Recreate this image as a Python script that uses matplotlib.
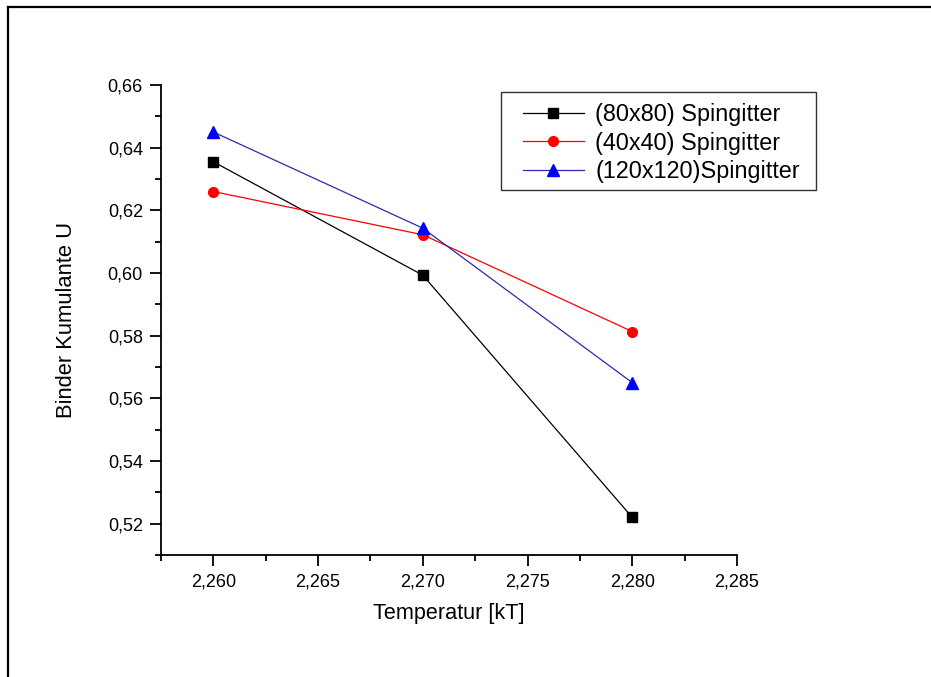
"""Binder cumulant vs temperature for three lattice sizes."""

import matplotlib

matplotlib.use("Agg")
import matplotlib.pyplot as plt
from matplotlib.lines import Line2D
from matplotlib.patches import Rectangle
from matplotlib.ticker import FuncFormatter, MultipleLocator

temperature = [2.260, 2.270, 2.280]
u_80 = [0.6355, 0.5993, 0.5220]
u_40 = [0.6260, 0.6122, 0.5813]
u_120 = [0.6450, 0.6143, 0.5650]
series_labels = ["(80x80) Spingitter", "(40x40) Spingitter", "(120x120)Spingitter"]

W, H = 931, 677
plt.rcParams["font.family"] = ["Liberation Sans", "DejaVu Sans"]

figure = plt.figure(figsize=(W / 100, H / 100), dpi=100)
axis = figure.add_axes([161 / W, 1 - 555 / H, (737 - 161) / W, (555 - 85) / H])

handles = []
for values, label, line_color, marker_color, marker, size in (
    (u_80, series_labels[0], "black", "black", "s", 6.5),
    (u_40, series_labels[1], "red", "red", "o", 7),
    (u_120, series_labels[2], "#2a2ab0", "blue", "^", 8.5),
):
    (line,) = axis.plot(
        temperature, values, color=line_color, linewidth=0.9,
        marker=marker, markersize=size, markerfacecolor=marker_color,
        markeredgecolor=marker_color, label=label,
    )
    handles.append(line)

axis.set_xlim(2.2575, 2.285)
axis.set_ylim(0.51, 0.66)
axis.xaxis.set_major_locator(MultipleLocator(0.005))
axis.xaxis.set_minor_locator(MultipleLocator(0.0025))
axis.yaxis.set_major_locator(MultipleLocator(0.02))
axis.yaxis.set_minor_locator(MultipleLocator(0.01))
axis.xaxis.set_major_formatter(FuncFormatter(lambda v, _: f"{v:.3f}".replace(".", ",")))
axis.yaxis.set_major_formatter(FuncFormatter(lambda v, _: f"{v:.2f}".replace(".", ",")))

for side in ("top", "right"):
    axis.spines[side].set_visible(False)
for side in ("left", "bottom"):
    axis.spines[side].set_linewidth(1.3)
axis.tick_params(which="major", direction="out", length=8, width=1.3, labelsize=13, pad=5)
axis.tick_params(which="minor", direction="out", length=4, width=1.3)

axis.set_xlabel("Temperatur [kT]", fontsize=15.6, labelpad=9)
axis.set_ylabel("Binder Kumulante U", fontsize=15.8, labelpad=22)

legend = axis.legend(
    handles=handles, loc="upper left",
    bbox_to_anchor=(523 / W, 1 - 103 / H), bbox_transform=figure.transFigure,
    frameon=False, fontsize=16.8, handlelength=2.6, handletextpad=0.5,
    labelspacing=0.24, borderpad=0.0, borderaxespad=0.0,
)
figure.add_artist(Rectangle(
    (501 / W, 1 - 190 / H), (816 - 501) / W, (190 - 92) / H,
    transform=figure.transFigure, fill=False, edgecolor="#333333", linewidth=1.0,
))

# page frame around the figure (runs off right and bottom)
figure.add_artist(Line2D([8 / W, 1], [1 - 7 / H, 1 - 7 / H], color="black",
                         linewidth=1.6, transform=figure.transFigure))
figure.add_artist(Line2D([8 / W, 8 / W], [0, 1 - 7 / H], color="black",
                         linewidth=1.6, transform=figure.transFigure))

figure.savefig("out.png", dpi=100)
